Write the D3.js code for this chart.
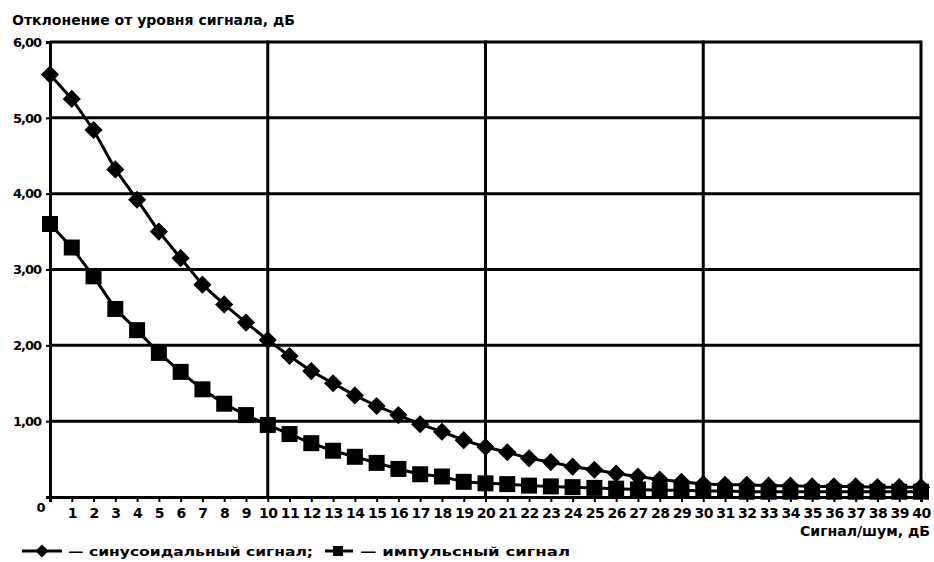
<!DOCTYPE html>
<html>
<head>
<meta charset="utf-8">
<script src="https://cdn.jsdelivr.net/npm/d3@7"></script>
<style>
  body { margin: 0; background: #fff; }
  svg text { font-family: "DejaVu Sans", "Liberation Sans", Arial, sans-serif; font-weight: bold; fill: #000; }
</style>
</head>
<body>
<div id="chart"></div>
<script>
// signal/noise, dB
var snr = d3.range(0, 41);

// deviation from signal level, dB
var sineValues = [5.57, 5.25, 4.84, 4.32, 3.92, 3.50, 3.15, 2.80, 2.54, 2.30,
  2.07, 1.86, 1.66, 1.50, 1.34, 1.20, 1.08, 0.96, 0.86, 0.75,
  0.66, 0.59, 0.51, 0.46, 0.40, 0.36, 0.31, 0.27, 0.23, 0.20,
  0.17, 0.16, 0.16, 0.15, 0.15, 0.14, 0.14, 0.14, 0.13, 0.13, 0.13];

var pulseValues = [3.60, 3.29, 2.91, 2.48, 2.20, 1.90, 1.65, 1.42, 1.23, 1.08,
  0.95, 0.83, 0.71, 0.61, 0.53, 0.45, 0.37, 0.30, 0.27, 0.20,
  0.18, 0.17, 0.15, 0.14, 0.13, 0.12, 0.11, 0.10, 0.09, 0.09,
  0.08, 0.08, 0.07, 0.07, 0.07, 0.07, 0.07, 0.07, 0.07, 0.07, 0.07];

var yTicks = [1, 2, 3, 4, 5, 6];
var xGrid = [10, 20, 30, 40];

var yTitle = "Отклонение от уровня сигнала, дБ";
var xTitle = "Сигнал/шум, дБ";
var legendSine = "— синусоидальный сигнал;";
var legendPulse = "— импульсный сигнал";

var W = 934, H = 562;
var plotL = 50, plotR = 921, plotT = 42, plotB = 497;

var svg = d3.select("#chart").append("svg")
  .attr("width", W).attr("height", H);

var x = d3.scaleLinear().domain([0, 40]).range([plotL, plotR]);
var y = d3.scaleLinear().domain([0, 6]).range([plotB, plotT]);

// grid
var grid = svg.append("g");
grid.selectAll(".hg").data(yTicks).enter().append("line")
  .attr("x1", plotL).attr("x2", plotR)
  .attr("y1", function(d){ return y(d); }).attr("y2", function(d){ return y(d); })
  .attr("stroke", "#000").attr("stroke-width", 3);
grid.selectAll(".vg").data(xGrid).enter().append("line")
  .attr("x1", function(d){ return x(d); }).attr("x2", function(d){ return x(d); })
  .attr("y1", plotT - 1.5).attr("y2", plotB)
  .attr("stroke", "#000").attr("stroke-width", 3);

// axes
var yAxis = d3.axisLeft(y).tickValues(yTicks).tickSize(4).tickPadding(5)
  .tickFormat(function(d){ return d3.format(".2f")(d).replace(".", ","); });
var gy = svg.append("g").attr("transform", "translate(" + plotL + ",0)").call(yAxis);
gy.select(".domain").attr("stroke-width", 3);
gy.selectAll(".tick line").attr("stroke-width", 2);
gy.selectAll("text").style("font-size", "13px").attr("letter-spacing", "-1");

var xAxis = d3.axisBottom(x).tickValues(snr.slice(1)).tickSize(5).tickPadding(6);
var gx = svg.append("g").attr("transform", "translate(0," + plotB + ")").call(xAxis);
gx.select(".domain").attr("stroke-width", 3);
gx.selectAll(".tick line").attr("stroke-width", 2);
gx.selectAll("text").style("font-size", "14px").attr("letter-spacing", "-0.5");

svg.append("text").attr("x", 41).attr("y", 512).attr("text-anchor", "middle")
  .style("font-size", "13px").text("0");

// series
var line = d3.line().x(function(d, i){ return x(snr[i]); }).y(function(d){ return y(d); });

svg.append("path").datum(sineValues).attr("d", line)
  .attr("fill", "none").attr("stroke", "#000").attr("stroke-width", 3);
svg.append("path").datum(pulseValues).attr("d", line)
  .attr("fill", "none").attr("stroke", "#000").attr("stroke-width", 3);

var diamond = d3.symbol().type(d3.symbolDiamond2).size(210);
var square = d3.symbol().type(d3.symbolSquare).size(256);

svg.append("g").selectAll("path").data(pulseValues).enter().append("path")
  .attr("d", square)
  .attr("transform", function(d, i){ return "translate(" + x(snr[i]) + "," + y(d) + ")"; })
  .attr("fill", "#000");

svg.append("g").selectAll("path").data(sineValues).enter().append("path")
  .attr("d", diamond)
  .attr("transform", function(d, i){ return "translate(" + x(snr[i]) + "," + y(d) + ")"; })
  .attr("fill", "#000");

// titles
svg.append("text").attr("x", 12).attr("y", 25)
  .attr("textLength", 283).attr("lengthAdjust", "spacingAndGlyphs")
  .style("font-size", "14px").text(yTitle);

svg.append("text").attr("x", 930).attr("y", 536).attr("text-anchor", "end")
  .attr("textLength", 130).attr("lengthAdjust", "spacingAndGlyphs")
  .style("font-size", "14px").text(xTitle);

// legend
var lg = svg.append("g");
lg.append("line").attr("x1", 22).attr("x2", 62).attr("y1", 551).attr("y2", 551)
  .attr("stroke", "#000").attr("stroke-width", 3);
lg.append("path").attr("d", d3.symbol().type(d3.symbolDiamond2).size(110))
  .attr("transform", "translate(42,551)");
lg.append("text").attr("x", 68).attr("y", 556)
  .attr("textLength", 245).attr("lengthAdjust", "spacingAndGlyphs")
  .style("font-size", "13px").text(legendSine);

lg.append("line").attr("x1", 325).attr("x2", 353).attr("y1", 551).attr("y2", 551)
  .attr("stroke", "#000").attr("stroke-width", 3);
lg.append("path").attr("d", d3.symbol().type(d3.symbolSquare).size(100))
  .attr("transform", "translate(338,551)");
lg.append("text").attr("x", 360).attr("y", 556)
  .attr("textLength", 210).attr("lengthAdjust", "spacingAndGlyphs")
  .style("font-size", "13px").text(legendPulse);
</script>
</body>
</html>
